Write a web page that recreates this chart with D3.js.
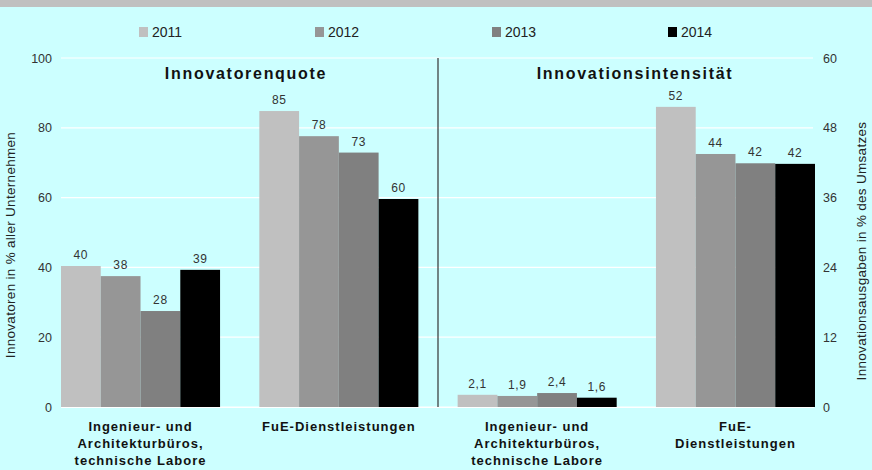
<!DOCTYPE html>
<html>
<head>
<meta charset="utf-8">
<script src="https://cdn.jsdelivr.net/npm/d3@7"></script>
<style>
  body { margin: 0; background: #ccffff; }
  svg { display: block; font-family: "Liberation Sans", Arial, sans-serif; }
  .tick text { fill: #333; font-size: 12.5px; }
  .val { fill: #333; font-size: 12px; letter-spacing: 0.6px; }
  .cat { fill: #111; font-size: 13px; font-weight: bold; letter-spacing: 1px; }
  .title { fill: #111; font-size: 16px; font-weight: bold; letter-spacing: 1.7px; }
  .ytitle { fill: #222; font-size: 13.5px; letter-spacing: 0.3px; }
  .leg { fill: #222; font-size: 14px; }
</style>
</head>
<body>
<svg id="chart"></svg>
<script>
var years = ["2011", "2012", "2013", "2014"];
var colors = ["#c0c0c0", "#969696", "#808080", "#000000"];
var groups = ["ing_l", "fue_l", "ing_r", "fue_r"];
var groupLabels = [
    ["Ingenieur- und", "Architekturbüros,", "technische Labore"],
    ["FuE-Dienstleistungen"],
    ["Ingenieur- und", "Architekturbüros,", "technische Labore"],
    ["FuE-", "Dienstleistungen"]
];
// Innovatorenquote (left axis, %)
var quoteIng = [40.4, 37.5, 27.5, 39.3];
var quoteFue = [84.8, 77.6, 72.9, 59.6];
// Innovationsintensitaet (right axis, %)
var intensIng = [2.1, 1.9, 2.4, 1.6];
var intensFue = [51.6, 43.5, 41.9, 41.8];
var leftTicks = [0, 20, 40, 60, 80, 100];
var rightTicks = [0, 12, 24, 36, 48, 60];

var width = 872, height = 470;
var svg = d3.select('#chart').attr('width', width).attr('height', height);

svg.append('rect').attr('width', width).attr('height', height).attr('fill', '#ccffff');
svg.append('rect').attr('width', width).attr('height', 7).attr('fill', '#c0c0c0');

var x0 = d3.scaleBand().domain(groups).range([61, 815]).paddingInner(0.198).paddingOuter(0);
var x1 = d3.scaleBand().domain(years).range([0, x0.bandwidth()]);
var yL = d3.scaleLinear().domain([0, 100]).range([407, 58]);
var yR = d3.scaleLinear().domain([0, 60]).range([407, 58]);

// gridlines
svg.append('g').selectAll('line')
    .data(leftTicks)
    .enter()
    .append('line')
    .attr('x1', 61).attr('x2', 813)
    .attr('y1', d => yL(d)).attr('y2', d => yL(d))
    .attr('stroke', '#ffffff')
    .attr('stroke-width', 1.2);

// axes
var axL = svg.append('g').attr('transform', 'translate(61,0)')
    .call(d3.axisLeft(yL).tickValues(leftTicks).tickSize(0).tickPadding(9));
axL.select('.domain').remove();
var axR = svg.append('g').attr('transform', 'translate(814,0)')
    .call(d3.axisRight(yR).tickValues(rightTicks).tickSize(0).tickPadding(9));
axR.select('.domain').remove();
svg.selectAll('.tick text').attr('font-family', null).attr('font-size', null);

var data = [
    { g: "ing_l", vals: quoteIng, y: yL },
    { g: "fue_l", vals: quoteFue, y: yL },
    { g: "ing_r", vals: intensIng, y: yR },
    { g: "fue_r", vals: intensFue, y: yR }
];
var fmt = d3.formatLocale({ decimal: ",", thousands: ".", grouping: [3], currency: ["", "€"] });
var fmtInt = fmt.format(".0f"), fmtDec = fmt.format(".1f");

var grp = svg.selectAll('.grp')
    .data(data)
    .enter()
    .append('g')
    .attr('class', 'grp')
    .attr('transform', d => 'translate(' + x0(d.g) + ',0)');

grp.selectAll('rect')
    .data(d => d.vals.map((v, i) => ({ v: v, i: i, y: d.y })))
    .enter()
    .append('rect')
    .attr('x', d => x1(years[d.i]))
    .attr('width', x1.bandwidth())
    .attr('y', d => d.y(d.v))
    .attr('height', d => d.y(0) - d.y(d.v))
    .attr('fill', d => colors[d.i]);

grp.selectAll('text.val')
    .data(d => d.vals.map((v, i) => ({ v: v, i: i, y: d.y, dec: d.g == "ing_r" })))
    .enter()
    .append('text')
    .attr('class', 'val')
    .attr('x', d => x1(years[d.i]) + x1.bandwidth() / 2)
    .attr('y', d => d.y(d.v) - 7)
    .attr('text-anchor', 'middle')
    .text(d => d.dec ? fmtDec(d.v) : fmtInt(d.v));

// category labels
grp.each(function (d, gi) {
    var t = d3.select(this).append('text')
        .attr('class', 'cat')
        .attr('text-anchor', 'middle')
        .attr('x', x0.bandwidth() / 2)
        .attr('y', 431);
    groupLabels[gi].forEach((line, li) => {
        t.append('tspan').attr('x', x0.bandwidth() / 2).attr('dy', li == 0 ? 0 : 17).text(line);
    });
});

// white baseline
svg.append('line').attr('x1', 61).attr('x2', 814).attr('y1', yL(0) + 0.5).attr('y2', yL(0) + 0.5)
    .attr('stroke', '#ffffff').attr('stroke-width', 1.2);

// divider between panels
var divX = (x0("fue_l") + x0.bandwidth() + x0("ing_r")) / 2;
svg.append('line').attr('x1', divX).attr('x2', divX).attr('y1', yL(100)).attr('y2', yL(0))
    .attr('stroke', '#333').attr('stroke-width', 1.2);

// panel titles
svg.append('text').attr('class', 'title').attr('x', 246).attr('y', 79).attr('text-anchor', 'middle').text('Innovatorenquote');
svg.append('text').attr('class', 'title').attr('x', 635).attr('y', 79).attr('text-anchor', 'middle').text('Innovationsintensität');

// axis titles
svg.append('text').attr('class', 'ytitle').attr('text-anchor', 'middle')
    .attr('transform', 'translate(15,245) rotate(-90)')
    .text('Innovatoren in % aller Unternehmen');
svg.append('text').attr('class', 'ytitle').attr('text-anchor', 'middle')
    .attr('transform', 'translate(866,251) rotate(-90)')
    .text('Innovationsausgaben in % des Umsatzes');

// legend
var legX = [139, 315, 492, 668];
var leg = svg.selectAll('.legitem')
    .data(years)
    .enter()
    .append('g')
    .attr('class', 'legitem')
    .attr('transform', (d, i) => 'translate(' + legX[i] + ',27)');
leg.append('rect').attr('width', 9).attr('height', 10).attr('fill', (d, i) => colors[i]);
leg.append('text').attr('class', 'leg').attr('x', 13).attr('y', 10).text(d => d);
</script>
</body>
</html>
